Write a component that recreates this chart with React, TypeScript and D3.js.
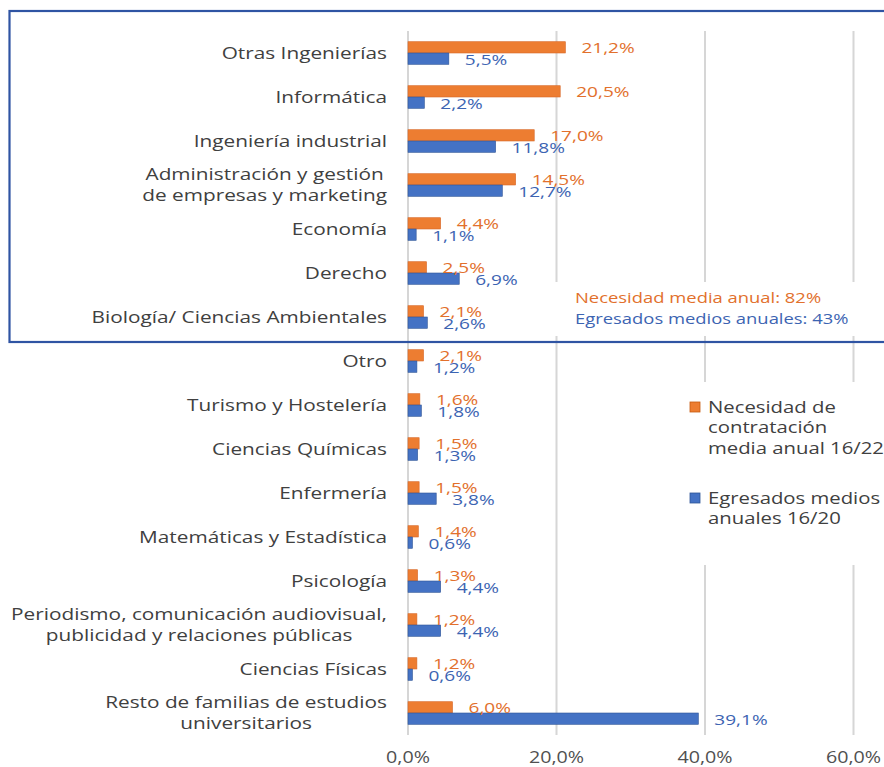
import { useEffect, useRef } from 'react';
import * as d3 from 'd3';

// ---------------------------------------------------------------------------
// Data
// ---------------------------------------------------------------------------
const categorias = [
  'Otras Ingenierías',
  'Informática',
  'Ingeniería industrial',
  'Administración y gestión\nde empresas y marketing',
  'Economía',
  'Derecho',
  'Biología/ Ciencias Ambientales',
  'Otro',
  'Turismo y Hostelería',
  'Ciencias Químicas',
  'Enfermería',
  'Matemáticas y Estadística',
  'Psicología',
  'Periodismo, comunicación audiovisual,\npublicidad y relaciones públicas',
  'Ciencias Físicas',
  'Resto de familias de estudios\nuniversitarios',
];

const necesidad = [21.2, 20.5, 17.0, 14.5, 4.4, 2.5, 2.1, 2.1, 1.6, 1.5, 1.5, 1.4, 1.3, 1.2, 1.2, 6.0];
const egresados = [5.5, 2.2, 11.8, 12.7, 1.1, 6.9, 2.6, 1.2, 1.8, 1.3, 3.8, 0.6, 4.4, 4.4, 0.6, 39.1];

const xTicks = [0, 20, 40, 60];

const legendNecesidad = ['Necesidad de', 'contratación', 'media anual 16/22'];
const legendEgresados = ['Egresados medios', 'anuales 16/20'];

const notaNecesidad = 'Necesidad media anual: 82%';
const notaEgresados = 'Egresados medios anuales: 43%';

// ---------------------------------------------------------------------------
const W = 884;
const H = 767;
const SX = 1.27; // source image text is stretched horizontally
const SX_CAT = 1.3;
const FONT = '"Open Sans", "DejaVu Sans", sans-serif';

const NARANJA = '#ED7D31';
const AZUL = '#4472C4';
const TXT_NARANJA = '#E2702C';
const TXT_AZUL = '#3C64B2';
const TXT = '#404040';
const GRID = '#D6D6D6';
const MARCO = '#2F54A3';

const es = d3.formatLocale({ decimal: ',', thousands: '.', grouping: [3], currency: ['', '€'] });
const pct = (v: number) => es.format('.1f')(v) + '%';

type Sel = d3.Selection<SVGGElement, unknown, null, undefined>;

function texto(
  parent: Sel,
  x: number,
  y: number,
  str: string,
  size: number,
  color: string,
  anchor: 'start' | 'middle' | 'end' = 'start',
  sx = SX
) {
  const t = parent
    .append('g')
    .attr('transform', `translate(${x},${y}) scale(${sx},1)`)
    .append('text')
    .attr('dy', '0.35em')
    .attr('text-anchor', anchor)
    .style('font-family', FONT)
    .style('font-size', `${size}px`)
    .attr('fill', color)
    .text(str);
  return t;
}

export default function App() {
  const svgRef = useRef<SVGSVGElement>(null);

  useEffect(() => {
    if (!svgRef.current) return;
    const svg = d3.select(svgRef.current);
    svg.selectAll('*').remove();
    const root = svg.append('g') as unknown as Sel;

    root.append('rect').attr('width', W).attr('height', H).attr('fill', '#fff');

    const x = d3.scaleLinear().domain([0, 60]).range([408, 853.5]);
    const y = d3.scaleBand<string>().domain(categorias).range([31, 735]);
    const barH = 11.3;
    const [y0, y1] = y.range();

    // gridlines
    root
      .selectAll('line.grid')
      .data(xTicks)
      .join('line')
      .attr('class', 'grid')
      .attr('x1', (d) => x(d))
      .attr('x2', (d) => x(d))
      .attr('y1', y0)
      .attr('y2', y1)
      .attr('stroke', GRID)
      .attr('stroke-width', 2);

    // white boxes behind annotation and legend
    root.append('rect').attr('x', 545).attr('y', 282).attr('width', 340).attr('height', 54).attr('fill', '#fff');
    root.append('rect').attr('x', 680).attr('y', 382).attr('width', 205).attr('height', 183).attr('fill', '#fff');

    // axis labels
    xTicks.forEach((t) => texto(root, x(t), 758, pct(t), 15.5, '#505050', 'middle'));

    // category labels
    categorias.forEach((c) => {
      const cy = (y(c) || 0) + y.bandwidth() / 2;
      const lines = c.split('\n');
      if (lines.length === 1) {
        texto(root, 387, cy, c, 16, TXT, 'end', SX_CAT);
        return;
      }
      const lh = 20.5;
      const nodes = lines.map((l, i) =>
        texto(root, 0, cy + (i - (lines.length - 1) / 2) * lh, l, 16, TXT, 'middle', SX_CAT)
      );
      const maxW = d3.max(nodes, (n) => (n.node() as SVGTextElement).getComputedTextLength() * SX_CAT) || 0;
      const cx = 387 - maxW / 2;
      nodes.forEach((n, i) => {
        const ly = cy + (i - (lines.length - 1) / 2) * lh;
        d3.select((n.node() as SVGTextElement).parentNode as SVGGElement).attr(
          'transform',
          `translate(${cx},${ly}) scale(${SX_CAT},1)`
        );
      });
    });

    // bars
    const filas = categorias.map((c, i) => ({ c, n: necesidad[i], e: egresados[i] }));
    root
      .selectAll('rect.nec')
      .data(filas)
      .join('rect')
      .attr('class', 'nec')
      .attr('x', x(0))
      .attr('y', (d) => (y(d.c) || 0) + y.bandwidth() / 2 - barH)
      .attr('width', (d) => x(d.n) - x(0))
      .attr('height', barH)
      .attr('fill', NARANJA)
      .attr('stroke', '#D8692A')
      .attr('stroke-width', 0.6);

    root
      .selectAll('rect.egr')
      .data(filas)
      .join('rect')
      .attr('class', 'egr')
      .attr('x', x(0))
      .attr('y', (d) => (y(d.c) || 0) + y.bandwidth() / 2)
      .attr('width', (d) => x(d.e) - x(0))
      .attr('height', barH)
      .attr('fill', AZUL)
      .attr('stroke', '#2F5597')
      .attr('stroke-width', 0.6);

    // value labels
    filas.forEach((d) => {
      const cy = (y(d.c) || 0) + y.bandwidth() / 2;
      texto(root, x(d.n) + 16, cy - barH / 2, pct(d.n), 15, TXT_NARANJA, 'start');
      texto(root, x(d.e) + 16, cy + barH / 2 + 1, pct(d.e), 15, TXT_AZUL, 'start');
    });

    // annotation
    texto(root, 575, 298, notaNecesidad, 14.5, TXT_NARANJA, 'start');
    texto(root, 575, 318.5, notaEgresados, 14.5, TXT_AZUL, 'start');

    // legend
    root.append('rect').attr('x', 690).attr('y', 402).attr('width', 10).attr('height', 10)
      .attr('fill', NARANJA).attr('stroke', '#C55A11').attr('stroke-width', 0.8);
    legendNecesidad.forEach((l, i) => texto(root, 708, 407 + i * 20.5, l, 16, TXT, 'start'));
    root.append('rect').attr('x', 690).attr('y', 493).attr('width', 10).attr('height', 10)
      .attr('fill', AZUL).attr('stroke', '#2F5597').attr('stroke-width', 0.8);
    legendEgresados.forEach((l, i) => texto(root, 708, 498 + i * 20.5, l, 16, TXT, 'start'));

    // frame around the top block
    root
      .append('rect')
      .attr('x', 9.5)
      .attr('y', 11)
      .attr('width', W)
      .attr('height', 331)
      .attr('fill', 'none')
      .attr('stroke', MARCO)
      .attr('stroke-width', 2.2);
  }, []);

  return (
    <div style={{ position: 'absolute', left: 0, top: 0 }}>
      <svg ref={svgRef} width={W} height={H} style={{ display: 'block' }} />
    </div>
  );
}
